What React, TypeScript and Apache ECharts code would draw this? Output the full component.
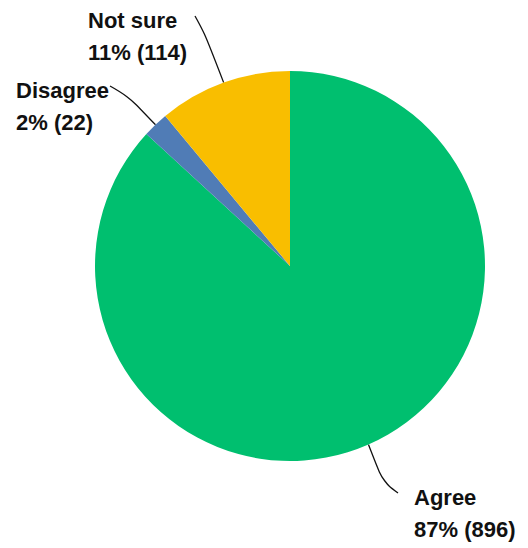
import React, { useEffect, useRef } from "react";
import * as echarts from "echarts";

const categories = ["Agree", "Disagree", "Not sure"];
const counts = [896, 22, 114];
const percents = [87, 2, 11];
const colors = ["#00BF6F", "#507CB6", "#F9BE00"];

// label anchor (left, vertical middle) and leader-line bend / end points
const labelSpots: Record<string, { x: number; y: number; bend: number[]; end: number[] }> = {
  Agree: { x: 414, y: 513, bend: [383, 482], end: [398, 493] },
  Disagree: { x: 16, y: 106, bend: [128, 96], end: [110, 86] },
  "Not sure": { x: 88, y: 36, bend: [205, 34], end: [195, 16] },
};

export default function App() {
  const ref = useRef<HTMLDivElement>(null);
  useEffect(() => {
    if (!ref.current) return;
    const chart = echarts.init(ref.current, undefined, { renderer: "svg" });
    chart.setOption({
      animation: false,
      backgroundColor: "#ffffff",
      series: [
        {
          type: "pie",
          center: [290, 266],
          radius: 195,
          startAngle: 90,
          clockwise: true,
          data: categories.map((c, i) => ({
            name: c,
            value: counts[i],
            itemStyle: { color: colors[i] },
            label: { formatter: `${c}\n${percents[i]}% (${counts[i]})` },
          })),
          label: {
            show: true,
            position: "outside",
            color: "#111111",
            fontFamily: "Liberation Sans",
            fontWeight: "bold",
            fontSize: 22,
            lineHeight: 32,
            align: "left",
            overflow: "none",
          },
          labelLine: {
            show: true,
            smooth: 0.4,
            lineStyle: { color: "#111", width: 1.3 },
          },
          labelLayout: (p: any) => {
            const s = labelSpots[categories[p.dataIndex]];
            const start = p.labelLinePoints ? p.labelLinePoints[0] : null;
            const out: any = { x: s.x, y: s.y, align: "left", verticalAlign: "middle" };
            if (start) out.labelLinePoints = [start, s.bend, s.end];
            return out;
          },
          emphasis: { disabled: true },
        },
      ],
    });
    return () => chart.dispose();
  }, []);
  return (
    <div
      ref={ref}
      style={{ position: "fixed", left: 0, top: 0, width: 528, height: 548 }}
    />
  );
}
